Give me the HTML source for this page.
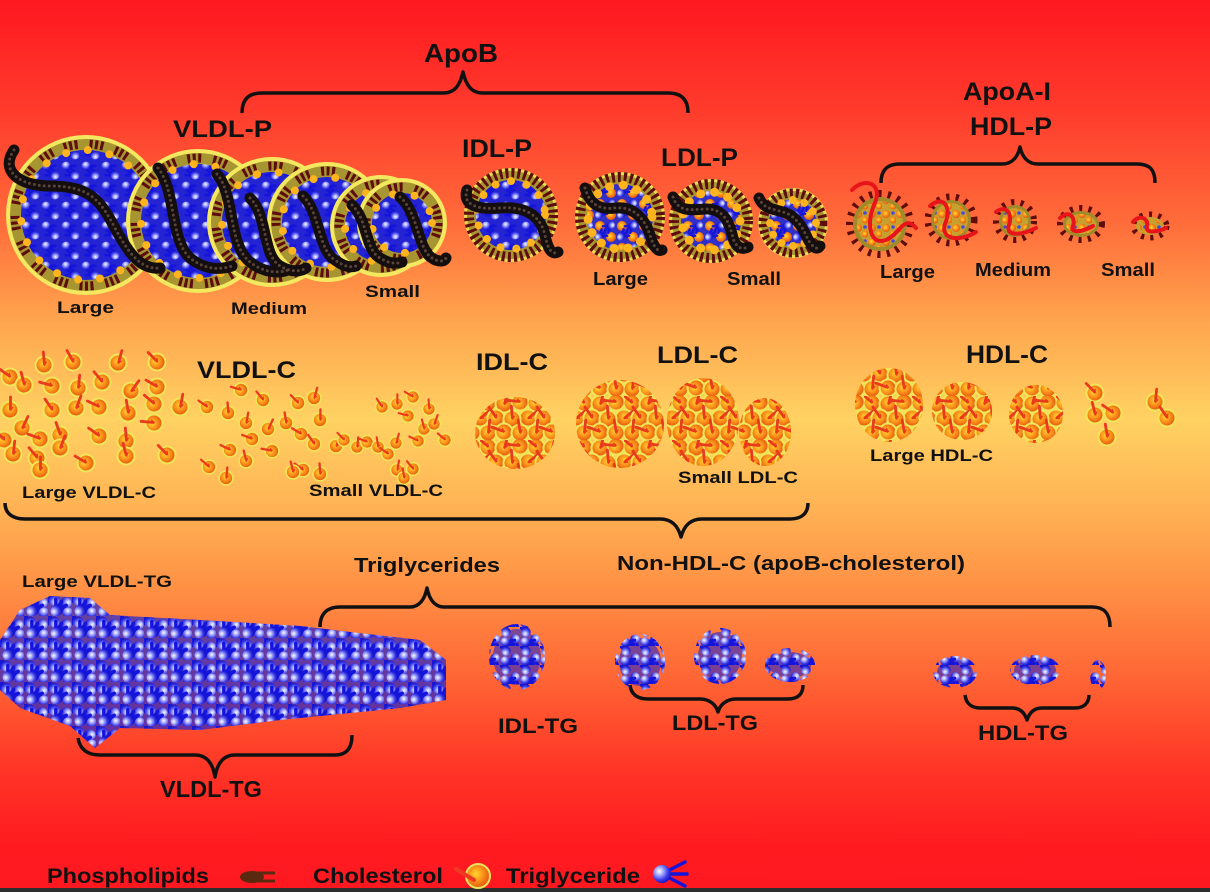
<!DOCTYPE html>
<html><head><meta charset="utf-8"><style>html,body{margin:0;padding:0;width:1210px;height:892px;overflow:hidden;background:#ff6a3a}svg{display:block}</style></head><body>
<svg width="1210" height="892" viewBox="0 0 1210 892" xmlns="http://www.w3.org/2000/svg" font-family="'Liberation Sans', Arial, sans-serif" font-weight="bold">
<defs>
<linearGradient id="bg" x1="0" y1="0" x2="0" y2="1">
<stop offset="0" stop-color="#ff1820"/>
<stop offset="0.12" stop-color="#ff3a2c"/>
<stop offset="0.25" stop-color="#ff6c3a"/>
<stop offset="0.35" stop-color="#ffa04c"/>
<stop offset="0.47" stop-color="#ffd262"/>
<stop offset="0.57" stop-color="#ffb254"/>
<stop offset="0.65" stop-color="#ff9446"/>
<stop offset="0.75" stop-color="#ff6a36"/>
<stop offset="0.86" stop-color="#ff3626"/>
<stop offset="0.95" stop-color="#ff1a20"/>
<stop offset="1" stop-color="#ff1820"/>
</linearGradient>
<radialGradient id="gC" cx="0.42" cy="0.42" r="0.58"><stop offset="0" stop-color="#ffd830"/><stop offset="0.35" stop-color="#ffa820"/><stop offset="0.78" stop-color="#f07014"/><stop offset="1" stop-color="#e05a10"/></radialGradient>
<radialGradient id="gT" cx="0.35" cy="0.35" r="0.7"><stop offset="0" stop-color="#ffffff"/><stop offset="0.25" stop-color="#b8bcff"/><stop offset="0.7" stop-color="#3a3ae8"/><stop offset="1" stop-color="#1414c0"/></radialGradient>
<g id="t"><path d="M0,0L10,-6M0,0L11,0M0,0L10,6" stroke="#1414dc" stroke-width="3.5" stroke-linecap="round" fill="none"/><circle r="5.5" fill="url(#gT)"/></g>
<g id="c"><circle r="8.5" fill="url(#gC)" stroke="#eee658" stroke-width="2"/><path d="M-5,-12L0,-1" stroke="#ea3a1e" stroke-width="2.8" stroke-linecap="round"/><path d="M-2,-3L1,1L2,-4" fill="#ea3a1e"/></g>

<pattern id="pTG" width="24" height="22" patternUnits="userSpaceOnUse">
<use href="#t" transform="translate(6,6) rotate(200)"/>
<use href="#t" transform="translate(18,9) rotate(120)"/>
<use href="#t" transform="translate(8,17) rotate(300)"/>
<use href="#t" transform="translate(20,19) rotate(40)"/>
</pattern>
<pattern id="pTG2" width="20" height="19" patternUnits="userSpaceOnUse">
<use href="#t" transform="translate(6,5) rotate(250) scale(.85)"/>
<use href="#t" transform="translate(15,12) rotate(100) scale(.85)"/>
<use href="#t" transform="translate(5,15) rotate(20) scale(.85)"/>
</pattern>
<pattern id="pMixB" width="20" height="20" patternUnits="userSpaceOnUse">
<rect width="20" height="20" fill="#2424d2"/>
<use href="#t" transform="translate(6,6) rotate(30) scale(.8)"/>
<use href="#t" transform="translate(15,15) rotate(210) scale(.8)"/>
</pattern>
<pattern id="pMixL" width="22" height="22" patternUnits="userSpaceOnUse">
<rect width="22" height="22" fill="#3030c8"/>
<circle cx="6" cy="6" r="5" fill="url(#gC)"/>
<circle cx="17" cy="17" r="5" fill="url(#gC)"/>
<use href="#t" transform="translate(17,5) rotate(140) scale(.7)"/>
<use href="#t" transform="translate(5,17) rotate(320) scale(.7)"/>
</pattern>
<pattern id="pMixH" width="14" height="14" patternUnits="userSpaceOnUse">
<rect width="14" height="14" fill="#c8a030"/>
<circle cx="4" cy="4" r="4" fill="url(#gC)"/>
<circle cx="11" cy="10" r="3.5" fill="url(#gC)"/>
<circle cx="11" cy="3" r="1.8" fill="#4848e0"/>
</pattern>
<pattern id="pCd" width="48" height="44" patternUnits="userSpaceOnUse">
<use href="#c" transform="translate(8,7) rotate(-25)"/>
<use href="#c" transform="translate(24,8) rotate(40)"/>
<use href="#c" transform="translate(40,6) rotate(-60)"/>
<use href="#c" transform="translate(0,22) rotate(75)"/>
<use href="#c" transform="translate(48,22) rotate(75)"/>
<use href="#c" transform="translate(16,22) rotate(-10)"/>
<use href="#c" transform="translate(32,23) rotate(20)"/>
<use href="#c" transform="translate(8,37) rotate(30)"/>
<use href="#c" transform="translate(24,36) rotate(-45)"/>
<use href="#c" transform="translate(40,37) rotate(15)"/>
</pattern>

<path id="ch1" d="M14,150 C0,170 18,186 50,186 C90,186 100,200 115,228 C128,252 140,270 160,268"/>
<path id="ch2" d="M158,168 C176,190 170,240 190,258 C205,270 220,270 232,266"/>
<path id="ch3" d="M217,174 C235,195 228,245 250,262 C262,272 278,274 288,270"/>
<path id="ch4" d="M250,198 C268,215 262,255 280,266 C290,272 300,272 306,268"/>
<path id="ch5" d="M303,196 C320,212 318,250 335,260 C343,266 350,268 356,266"/>
<path id="ch6" d="M352,205 C368,220 365,250 380,258 C390,264 396,264 402,262"/>
<path id="ch7" d="M400,197 C418,212 418,250 432,258 C438,262 444,262 446,258"/>
<path id="ch8" d="M467,190 C462,205 478,210 500,208 C525,206 540,215 545,235 C548,250 552,255 558,252"/>
<path id="ch9" d="M585,188 C590,205 600,210 615,208 C635,206 645,220 650,235 C654,248 658,252 662,250"/>
<path id="ch10" d="M673,197 C678,212 690,210 705,209 C725,208 730,225 733,238 C736,248 742,250 748,247"/>
<path id="ch11" d="M759,198 C765,212 778,208 790,215 C805,225 806,240 812,245 C815,249 818,249 820,246"/>
</defs>

<rect width="1210" height="892" fill="url(#bg)"/>
<rect y="888" width="1210" height="4" fill="#2e2e2e"/>

<!-- VLDL particles -->
<g>
<circle cx="86" cy="215" r="80" fill="#f4e860"/><circle cx="86" cy="215" r="76" fill="#a69530"/>
<circle cx="86" cy="215" r="71" fill="none" stroke="#5e0c0c" stroke-width="9" stroke-dasharray="3 2.5 3 2.5 3 12"/>
<circle cx="86" cy="215" r="65" fill="url(#pMixB)"/>
<circle cx="86" cy="215" r="65" fill="none" stroke="#ffb41e" stroke-width="8" stroke-dasharray="0 22" stroke-linecap="round"/>

<circle cx="198" cy="221" r="72" fill="#f4e860"/><circle cx="198" cy="221" r="68" fill="#a69530"/>
<circle cx="198" cy="221" r="63" fill="none" stroke="#5e0c0c" stroke-width="9" stroke-dasharray="3 2.5 3 2.5 3 12"/>
<circle cx="198" cy="221" r="57" fill="url(#pMixB)"/>
<circle cx="198" cy="221" r="57" fill="none" stroke="#ffb41e" stroke-width="8" stroke-dasharray="0 22" stroke-linecap="round"/>

<circle cx="272" cy="222" r="65" fill="#f4e860"/><circle cx="272" cy="222" r="61" fill="#a69530"/>
<circle cx="272" cy="222" r="56" fill="none" stroke="#5e0c0c" stroke-width="9" stroke-dasharray="3 2.5 3 2.5 3 12"/>
<circle cx="272" cy="222" r="50" fill="url(#pMixB)"/>
<circle cx="272" cy="222" r="50" fill="none" stroke="#ffb41e" stroke-width="8" stroke-dasharray="0 22" stroke-linecap="round"/>

<circle cx="327" cy="222" r="60" fill="#f4e860"/><circle cx="327" cy="222" r="56" fill="#a69530"/>
<circle cx="327" cy="222" r="51" fill="none" stroke="#5e0c0c" stroke-width="9" stroke-dasharray="3 2.5 3 2.5 3 12"/>
<circle cx="327" cy="222" r="45" fill="url(#pMixB)"/>
<circle cx="327" cy="222" r="45" fill="none" stroke="#ffb41e" stroke-width="8" stroke-dasharray="0 22" stroke-linecap="round"/>

<circle cx="381" cy="226" r="51" fill="#f4e860"/><circle cx="381" cy="226" r="47" fill="#a69530"/>
<circle cx="381" cy="226" r="42" fill="none" stroke="#5e0c0c" stroke-width="9" stroke-dasharray="3 2.5 3 2.5 3 12"/>
<circle cx="381" cy="226" r="36" fill="url(#pMixB)"/>
<circle cx="381" cy="226" r="36" fill="none" stroke="#ffb41e" stroke-width="8" stroke-dasharray="0 22" stroke-linecap="round"/>

<circle cx="402" cy="223" r="45" fill="#f4e860"/><circle cx="402" cy="223" r="41" fill="#a69530"/>
<circle cx="402" cy="223" r="36" fill="none" stroke="#5e0c0c" stroke-width="9" stroke-dasharray="3 2.5 3 2.5 3 12"/>
<circle cx="402" cy="223" r="30" fill="url(#pMixB)"/>
<circle cx="402" cy="223" r="30" fill="none" stroke="#ffb41e" stroke-width="8" stroke-dasharray="0 22" stroke-linecap="round"/>
</g>

<!-- IDL / LDL particles -->
<g>
<circle cx="511" cy="215" r="47" fill="#e8dc50"/><circle cx="511" cy="215" r="44" fill="#a69530"/>
<circle cx="511" cy="215" r="42" fill="none" stroke="#5e0c0c" stroke-width="10" stroke-dasharray="3 3"/>
<circle cx="511" cy="215" r="35" fill="url(#pMixB)"/>
<circle cx="511" cy="215" r="34" fill="none" stroke="#ffb41e" stroke-width="8" stroke-dasharray="0 16" stroke-linecap="round"/>

<circle cx="620" cy="217" r="45" fill="#e8dc50"/><circle cx="620" cy="217" r="42" fill="#a69530"/>
<circle cx="620" cy="217" r="40" fill="none" stroke="#5e0c0c" stroke-width="10" stroke-dasharray="3 3"/>
<circle cx="620" cy="217" r="33" fill="url(#pMixL)"/>
<circle cx="620" cy="217" r="32" fill="none" stroke="#ffb41e" stroke-width="9" stroke-dasharray="0 14" stroke-linecap="round"/>

<circle cx="711" cy="221" r="42" fill="#e8dc50"/><circle cx="711" cy="221" r="39" fill="#a69530"/>
<circle cx="711" cy="221" r="37" fill="none" stroke="#5e0c0c" stroke-width="10" stroke-dasharray="3 3"/>
<circle cx="711" cy="221" r="30" fill="url(#pMixL)"/>
<circle cx="711" cy="221" r="29" fill="none" stroke="#ffb41e" stroke-width="9" stroke-dasharray="0 14" stroke-linecap="round"/>

<circle cx="793" cy="223" r="35" fill="#e8dc50"/><circle cx="793" cy="223" r="32" fill="#a69530"/>
<circle cx="793" cy="223" r="30" fill="none" stroke="#5e0c0c" stroke-width="9" stroke-dasharray="3 3"/>
<circle cx="793" cy="223" r="24" fill="url(#pMixL)"/>
<circle cx="793" cy="223" r="23" fill="none" stroke="#ffb41e" stroke-width="8" stroke-dasharray="0 12" stroke-linecap="round"/>
</g>

<!-- apoB chains -->
<g fill="none" stroke-linecap="round" stroke="#140e0e" stroke-width="11">
<use href="#ch1"/><use href="#ch2"/><use href="#ch3"/><use href="#ch4"/><use href="#ch5"/><use href="#ch6"/><use href="#ch7"/><use href="#ch8"/><use href="#ch9"/><use href="#ch10"/><use href="#ch11"/>
</g>
<g fill="none" stroke-linecap="round" stroke="#5a4438" stroke-width="3" stroke-dasharray="0 5">
<use href="#ch1"/><use href="#ch2"/><use href="#ch3"/><use href="#ch4"/><use href="#ch5"/><use href="#ch6"/><use href="#ch7"/><use href="#ch8"/><use href="#ch9"/><use href="#ch10"/><use href="#ch11"/>
</g>

<!-- HDL particles -->
<g>
<circle cx="880" cy="224" r="29" fill="none" stroke="#5e0c0c" stroke-width="10" stroke-dasharray="3 6"/>
<circle cx="880" cy="224" r="27" fill="#a08a2a"/><circle cx="880" cy="224" r="23" fill="url(#pMixH)"/>
<circle cx="951" cy="220" r="22" fill="none" stroke="#5e0c0c" stroke-width="9" stroke-dasharray="3 6"/>
<circle cx="951" cy="220" r="20" fill="#a08a2a"/><circle cx="951" cy="220" r="17" fill="url(#pMixH)"/>
<circle cx="1015" cy="221" r="18" fill="none" stroke="#5e0c0c" stroke-width="8" stroke-dasharray="3 6"/>
<circle cx="1015" cy="221" r="16" fill="#a08a2a"/><circle cx="1015" cy="221" r="13" fill="url(#pMixH)"/>
<ellipse cx="1081" cy="224" rx="20" ry="15" fill="none" stroke="#5e0c0c" stroke-width="8" stroke-dasharray="3 6"/>
<ellipse cx="1081" cy="224" rx="18" ry="13" fill="#a08a2a"/><ellipse cx="1081" cy="224" rx="15" ry="10" fill="url(#pMixH)"/>
<ellipse cx="1150" cy="226" rx="16" ry="11" fill="none" stroke="#5e0c0c" stroke-width="7" stroke-dasharray="3 6"/>
<ellipse cx="1150" cy="226" rx="14" ry="9" fill="#c8a030"/><ellipse cx="1150" cy="226" rx="11" ry="7" fill="url(#pMixH)"/>
</g>
<g fill="none" stroke="#e8141a" stroke-width="4" stroke-linecap="round">
<path d="M852,190 C866,176 884,184 874,205 C866,224 870,246 886,240 C900,234 904,214 916,228"/>
<path d="M930,206 C944,194 952,208 945,224 C940,240 960,242 976,232"/>
<path d="M996,212 C1006,204 1013,214 1009,225 C1005,236 1020,236 1036,228"/>
<path d="M1060,218 C1069,209 1076,218 1073,226 C1070,233 1080,233 1093,226"/>
<path d="M1133,222 C1141,213 1149,220 1147,226 C1145,233 1155,233 1166,228"/>
</g>

<!-- braces -->
<g fill="none" stroke="#111" stroke-width="3.5" stroke-linejoin="round">
<path d="M242,113 C242,100 248,93 262,93 L443,93 C455,93 460,85 463,72 C466,85 471,93 483,93 L668,93 C682,93 688,100 688,113"/>
<path d="M881,183 C881,170 887,164 900,164 L1002,164 C1013,164 1018,156 1020,147 C1022,156 1027,164 1038,164 L1137,164 C1150,164 1155,170 1155,183"/>
<path d="M5,503 C5,513 12,519 25,519 L660,519 C672,519 678,526 681,537 C684,526 690,519 702,519 L790,519 C802,519 808,513 808,503"/>
<path d="M320,627 C320,614 327,607 340,607 L410,607 C420,607 425,598 427,588 C429,598 434,607 444,607 L1092,607 C1105,607 1110,614 1110,627"/>
<path d="M78,738 C80,750 88,755 100,755 L195,755 C207,755 213,764 215,777 C217,764 223,755 235,755 L335,755 C347,755 352,748 352,735"/>
<path d="M630,685 C631,694 637,699 648,699 L700,699 C710,699 716,705 718,712 C720,705 726,699 736,699 L788,699 C798,699 803,694 803,685"/>
<path d="M965,695 C966,703 971,708 980,708 L1012,708 C1021,708 1025,714 1027,720 C1029,714 1033,708 1042,708 L1075,708 C1084,708 1089,703 1089,695"/>
</g>

<!-- cholesterol row: large VLDL-C -->
<g>
<use href="#c" transform="translate(10,377) rotate(-30)"/>
<use href="#c" transform="translate(44,365) rotate(20)"/>
<use href="#c" transform="translate(73,362) rotate(-5)"/>
<use href="#c" transform="translate(118,363) rotate(40)"/>
<use href="#c" transform="translate(157,362) rotate(-20)"/>
<use href="#c" transform="translate(24,385) rotate(10)"/>
<use href="#c" transform="translate(52,386) rotate(-50)"/>
<use href="#c" transform="translate(78,388) rotate(30)"/>
<use href="#c" transform="translate(102,382) rotate(-15)"/>
<use href="#c" transform="translate(131,391) rotate(60)"/>
<use href="#c" transform="translate(157,387) rotate(-35)"/>
<use href="#c" transform="translate(10,410) rotate(25)"/>
<use href="#c" transform="translate(52,410) rotate(-10)"/>
<use href="#c" transform="translate(76,408) rotate(45)"/>
<use href="#c" transform="translate(99,407) rotate(-40)"/>
<use href="#c" transform="translate(128,413) rotate(15)"/>
<use href="#c" transform="translate(154,404) rotate(-25)"/>
<use href="#c" transform="translate(180,407) rotate(35)"/>
<use href="#c" transform="translate(4,440) rotate(-20)"/>
<use href="#c" transform="translate(22,428) rotate(50)"/>
<use href="#c" transform="translate(40,439) rotate(-45)"/>
<use href="#c" transform="translate(60,435) rotate(5)"/>
<use href="#c" transform="translate(99,436) rotate(-30)"/>
<use href="#c" transform="translate(126,441) rotate(20)"/>
<use href="#c" transform="translate(154,423) rotate(-60)"/>
<use href="#c" transform="translate(13,454) rotate(30)"/>
<use href="#c" transform="translate(37,458) rotate(-15)"/>
<use href="#c" transform="translate(60,448) rotate(45)"/>
<use href="#c" transform="translate(86,463) rotate(-35)"/>
<use href="#c" transform="translate(126,456) rotate(10)"/>
<use href="#c" transform="translate(167,455) rotate(-20)"/>
<use href="#c" transform="translate(40,470) rotate(25)"/>
</g>
<!-- medium VLDL-C -->
<g>
<use href="#c" transform="translate(207,407) rotate(-30) scale(.82)"/>
<use href="#c" transform="translate(228,413) rotate(20) scale(.82)"/>
<use href="#c" transform="translate(241,390) rotate(-50) scale(.82)"/>
<use href="#c" transform="translate(246,423) rotate(35) scale(.82)"/>
<use href="#c" transform="translate(263,400) rotate(-15) scale(.82)"/>
<use href="#c" transform="translate(268,429) rotate(50) scale(.82)"/>
<use href="#c" transform="translate(230,450) rotate(-40) scale(.82)"/>
<use href="#c" transform="translate(246,461) rotate(10) scale(.82)"/>
<use href="#c" transform="translate(209,467) rotate(-25) scale(.82)"/>
<use href="#c" transform="translate(226,478) rotate(30) scale(.82)"/>
<use href="#c" transform="translate(272,451) rotate(-55) scale(.82)"/>
<use href="#c" transform="translate(286,423) rotate(15) scale(.82)"/>
<use href="#c" transform="translate(298,403) rotate(-20) scale(.82)"/>
<use href="#c" transform="translate(314,398) rotate(40) scale(.82)"/>
<use href="#c" transform="translate(301,434) rotate(-35) scale(.82)"/>
<use href="#c" transform="translate(320,420) rotate(25) scale(.82)"/>
<use href="#c" transform="translate(314,444) rotate(-10) scale(.82)"/>
<use href="#c" transform="translate(336,446) rotate(45) scale(.82)"/>
<use href="#c" transform="translate(303,470) rotate(-30) scale(.82)"/>
<use href="#c" transform="translate(320,474) rotate(20) scale(.82)"/>
<use href="#c" transform="translate(252,439) rotate(-45) scale(.82)"/>
<use href="#c" transform="translate(293,472) rotate(10) scale(.82)"/>
</g>
<!-- small VLDL-C -->
<g>
<use href="#c" transform="translate(344,440) rotate(-20) scale(.75)"/>
<use href="#c" transform="translate(357,447) rotate(30) scale(.75)"/>
<use href="#c" transform="translate(367,442) rotate(-45) scale(.75)"/>
<use href="#c" transform="translate(378,447) rotate(15) scale(.75)"/>
<use href="#c" transform="translate(388,454) rotate(-30) scale(.75)"/>
<use href="#c" transform="translate(396,443) rotate(40) scale(.75)"/>
<use href="#c" transform="translate(382,407) rotate(-10) scale(.75)"/>
<use href="#c" transform="translate(397,404) rotate(25) scale(.75)"/>
<use href="#c" transform="translate(413,397) rotate(-35) scale(.75)"/>
<use href="#c" transform="translate(429,409) rotate(20) scale(.75)"/>
<use href="#c" transform="translate(408,416) rotate(-50) scale(.75)"/>
<use href="#c" transform="translate(424,429) rotate(10) scale(.75)"/>
<use href="#c" transform="translate(445,440) rotate(-25) scale(.75)"/>
<use href="#c" transform="translate(397,470) rotate(35) scale(.75)"/>
<use href="#c" transform="translate(413,469) rotate(-15) scale(.75)"/>
<use href="#c" transform="translate(434,424) rotate(45) scale(.75)"/>
<use href="#c" transform="translate(418,441) rotate(-40) scale(.75)"/>
<use href="#c" transform="translate(404,478) rotate(15) scale(.75)"/>
</g>
<!-- IDL-C, LDL-C, HDL-C -->
<ellipse cx="515" cy="433" rx="40" ry="36" fill="url(#pCd)"/>
<ellipse cx="620" cy="424" rx="44" ry="44" fill="url(#pCd)"/>
<ellipse cx="703" cy="422" rx="36" ry="44" fill="url(#pCd)"/>
<ellipse cx="765" cy="432" rx="26" ry="34" fill="url(#pCd)"/>
<ellipse cx="889" cy="405" rx="34" ry="37" fill="url(#pCd)"/>
<ellipse cx="962" cy="411" rx="30" ry="29" fill="url(#pCd)"/>
<ellipse cx="1036" cy="414" rx="27" ry="29" fill="url(#pCd)"/>
<use href="#c" transform="translate(1095,393) rotate(-20)"/>
<use href="#c" transform="translate(1095,415) rotate(10)"/>
<use href="#c" transform="translate(1113,413) rotate(-30)"/>
<use href="#c" transform="translate(1107,437) rotate(15)"/>
<use href="#c" transform="translate(1155,402) rotate(30)"/>
<use href="#c" transform="translate(1167,418) rotate(-10)"/>

<!-- triglyceride row -->
<polygon points="0,640 20,610 50,596 90,598 110,615 200,620 300,626 350,632 420,640 446,660 446,700 400,708 340,714 280,720 200,730 120,728 95,748 70,726 20,708 0,690" fill="#2424d0" opacity="0.7"/>
<polygon points="0,640 20,610 50,596 90,598 110,615 200,620 300,626 350,632 420,640 446,660 446,700 400,708 340,714 280,720 200,730 120,728 95,748 70,726 20,708 0,690" fill="url(#pTG)"/>
<g opacity="0.6" fill="#2424d0">
<ellipse cx="517" cy="657" rx="24" ry="28"/>
<ellipse cx="640" cy="662" rx="21" ry="24"/>
<ellipse cx="720" cy="656" rx="22" ry="24"/>
<ellipse cx="790" cy="665" rx="21" ry="13"/>
<ellipse cx="955" cy="672" rx="18" ry="12"/>
<ellipse cx="1035" cy="670" rx="21" ry="11"/>
</g>
<ellipse cx="517" cy="657" rx="28" ry="33" fill="url(#pTG2)"/>
<ellipse cx="640" cy="662" rx="25" ry="28" fill="url(#pTG2)"/>
<ellipse cx="720" cy="656" rx="26" ry="28" fill="url(#pTG2)"/>
<ellipse cx="790" cy="665" rx="25" ry="17" fill="url(#pTG2)"/>
<ellipse cx="955" cy="672" rx="22" ry="16" fill="url(#pTG2)"/>
<ellipse cx="1035" cy="670" rx="25" ry="15" fill="url(#pTG2)"/>
<ellipse cx="1098" cy="675" rx="8" ry="15" fill="url(#pTG2)"/>

<!-- legend icons -->
<g>
<path d="M258,873 L275,873 M258,881 L275,881" stroke="#5a2a10" stroke-width="3"/>
<ellipse cx="252" cy="877" rx="12" ry="6" fill="#5a2a10"/>
<circle cx="478" cy="876" r="12" fill="url(#gC)" stroke="#e6e45c" stroke-width="2"/>
<path d="M456,869 L474,880" stroke="#ee3a20" stroke-width="4" stroke-linecap="round"/>
<path d="M662,874 L685,862 M662,874 L687,874 M662,874 L685,886" stroke="#1414dc" stroke-width="3.5" stroke-linecap="round"/>
<circle cx="662" cy="874" r="9" fill="url(#gT)"/>
</g>

<!-- text -->
<g fill="#111">
<text x="424" y="62" font-size="26" textLength="74" lengthAdjust="spacingAndGlyphs">ApoB</text>
<text x="173" y="137" font-size="24" textLength="99" lengthAdjust="spacingAndGlyphs">VLDL-P</text>
<text x="462" y="157" font-size="25" textLength="70" lengthAdjust="spacingAndGlyphs">IDL-P</text>
<text x="661" y="166" font-size="25" textLength="77" lengthAdjust="spacingAndGlyphs">LDL-P</text>
<text x="963" y="100" font-size="25" textLength="88" lengthAdjust="spacingAndGlyphs">ApoA-I</text>
<text x="970" y="135" font-size="25" textLength="82" lengthAdjust="spacingAndGlyphs">HDL-P</text>

<text x="57" y="313" font-size="17" textLength="57" lengthAdjust="spacingAndGlyphs">Large</text>
<text x="231" y="314" font-size="17" textLength="76" lengthAdjust="spacingAndGlyphs">Medium</text>
<text x="365" y="297" font-size="17" textLength="55" lengthAdjust="spacingAndGlyphs">Small</text>
<text x="593" y="285" font-size="18" textLength="55" lengthAdjust="spacingAndGlyphs">Large</text>
<text x="727" y="285" font-size="18" textLength="54" lengthAdjust="spacingAndGlyphs">Small</text>
<text x="880" y="278" font-size="18" textLength="55" lengthAdjust="spacingAndGlyphs">Large</text>
<text x="975" y="276" font-size="18" textLength="76" lengthAdjust="spacingAndGlyphs">Medium</text>
<text x="1101" y="276" font-size="18" textLength="54" lengthAdjust="spacingAndGlyphs">Small</text>

<text x="197" y="378" font-size="24" textLength="99" lengthAdjust="spacingAndGlyphs">VLDL-C</text>
<text x="476" y="370" font-size="24" textLength="72" lengthAdjust="spacingAndGlyphs">IDL-C</text>
<text x="657" y="363" font-size="24" textLength="81" lengthAdjust="spacingAndGlyphs">LDL-C</text>
<text x="966" y="363" font-size="25" textLength="82" lengthAdjust="spacingAndGlyphs">HDL-C</text>
<text x="22" y="498" font-size="17" textLength="134" lengthAdjust="spacingAndGlyphs">Large VLDL-C</text>
<text x="309" y="496" font-size="17" textLength="134" lengthAdjust="spacingAndGlyphs">Small VLDL-C</text>
<text x="678" y="483" font-size="17" textLength="120" lengthAdjust="spacingAndGlyphs">Small LDL-C</text>
<text x="870" y="461" font-size="17" textLength="123" lengthAdjust="spacingAndGlyphs">Large HDL-C</text>
<text x="617" y="570" font-size="20" textLength="348" lengthAdjust="spacingAndGlyphs">Non-HDL-C (apoB-cholesterol)</text>

<text x="22" y="587" font-size="17" textLength="150" lengthAdjust="spacingAndGlyphs">Large VLDL-TG</text>
<text x="354" y="572" font-size="20" textLength="146" lengthAdjust="spacingAndGlyphs">Triglycerides</text>
<text x="498" y="733" font-size="21" textLength="80" lengthAdjust="spacingAndGlyphs">IDL-TG</text>
<text x="672" y="730" font-size="21" textLength="86" lengthAdjust="spacingAndGlyphs">LDL-TG</text>
<text x="978" y="740" font-size="21" textLength="90" lengthAdjust="spacingAndGlyphs">HDL-TG</text>
<text x="160" y="797" font-size="23" textLength="102" lengthAdjust="spacingAndGlyphs">VLDL-TG</text>

<text x="47" y="883" font-size="21" textLength="162" lengthAdjust="spacingAndGlyphs">Phospholipids</text>
<text x="313" y="883" font-size="21" textLength="130" lengthAdjust="spacingAndGlyphs">Cholesterol</text>
<text x="506" y="883" font-size="21" textLength="134" lengthAdjust="spacingAndGlyphs">Triglyceride</text>
</g>
</svg>
</body></html>
